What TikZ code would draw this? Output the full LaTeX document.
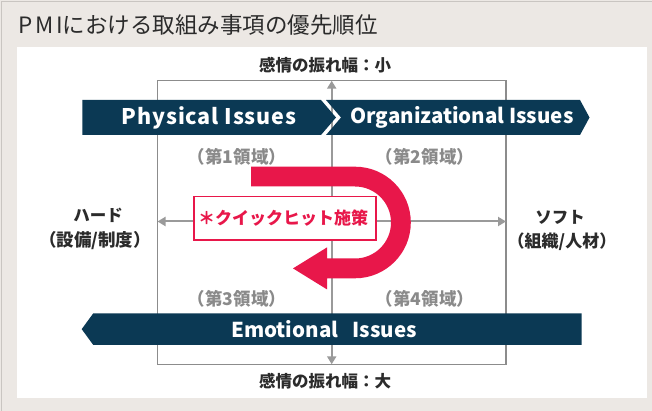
\documentclass[tikz,border=0pt]{standalone}
\usepackage{fontspec}
\setmainfont{Noto Sans CJK JP}
\usetikzlibrary{arrows.meta}
\definecolor{bgbeige}{HTML}{ECE8E4}
\definecolor{edgegray}{HTML}{C9C5C1}
\definecolor{navy}{HTML}{0B3954}
\definecolor{qred}{HTML}{E8174A}
\definecolor{axisgray}{HTML}{9A9A9A}
\definecolor{framegray}{HTML}{8C8C8C}
\definecolor{labgray}{HTML}{8A8A8A}
\definecolor{darktext}{HTML}{2B2B2B}
\tikzset{
  banner/.style={fill=navy,draw=none},
  bannertext/.style={text=white,font=\fontsize{20.5}{23}\selectfont\bfseries,inner sep=0pt},
  quadlabel/.style={text=labgray,font=\fontsize{17.5}{19}\selectfont\bfseries,inner sep=0pt},
  axislabel/.style={text=darktext,font=\fontsize{16.5}{18}\selectfont\bfseries,inner sep=0pt},
  axisline/.style={draw=axisgray,line width=2pt,{Triangle[width=9pt,length=8pt]}-{Triangle[width=9pt,length=8pt]}},
}
\begin{document}
\begin{tikzpicture}[x=1pt,y=1pt]
\useasboundingbox (0,0) rectangle (652,411);
% background
\fill[bgbeige] (0,0) rectangle (652,411);
\draw[edgegray,line width=1.5pt] (1.5,0) -- (1.5,409.5) -- (652,409.5);
\fill[white] (16.5,12.5) rectangle (646.5,364);
% title
\node[anchor=west,inner sep=0pt,text=darktext,font=\fontsize{22.5}{25}\selectfont] (title) at (18.3,386)
  {P\hspace{2.5pt}M\hspace{2.5pt}Iにおける取組み事項の優先順位};
% frame
\draw[framegray,line width=1.3pt] (157.5,46.7) rectangle (506,330.3);
% axes
\coordinate (vtop) at (331.7,330.3);
\coordinate (vbot) at (331.7,46.7);
\coordinate (hleft) at (157.5,189.5);
\coordinate (hright) at (506,189.5);
\draw[axisline] (vbot) -- (vtop);
\draw[axisline] (hleft) -- (hright);
% banners
\fill[banner] (82.4,311) -- (321,311) -- (336,293.5) -- (321,276) -- (82.4,276) -- cycle;
\fill[banner] (326,311) -- (580,311) -- (589.5,293.5) -- (580,276) -- (326,276) -- (341,293.5) -- cycle;
\fill[banner] (81.7,81.85) -- (93.3,97.7) -- (581.7,97.7) -- (581.7,66) -- (93.3,66) -- cycle;
\node[bannertext,font=\fontsize{21.5}{23}\selectfont\bfseries\addfontfeature{LetterSpace=4}] (phys) at (209,293.5) {Physical Issues};
\node[bannertext] (org) at (462,293.5) {Organizational Issues};
\node[bannertext] (emo) at (324,81.85) {Emotional\hspace{0.7em}Issues};
% quadrant labels
\node[quadlabel] (q1) at (237,254) {（第1領域）};
\node[quadlabel] (q2) at (425,254) {（第2領域）};
\node[quadlabel] (q3) at (237,112) {（第3領域）};
\node[quadlabel] (q4) at (425,112) {（第4領域）};
% axis labels
\node[axislabel] (small) at (325,346) {感情の振れ幅：小};
\node[axislabel] (large) at (325,30) {感情の振れ幅：大};
\node[axislabel] (hard1) at (98,196) {ハード};
\node[axislabel,font=\fontsize{17.5}{19}\selectfont\bfseries] (hard2) at (95,170) {（設備/制度）};
\node[axislabel] (soft1) at (560,194) {ソフト};
\node[axislabel,font=\fontsize{17}{19}\selectfont\bfseries] (soft2) at (562,169) {（組織/人材）};
% U arrow
\fill[qred] (251,244.3) -- (355,244.3) arc[start angle=90,end angle=-90,radius=55.8]
  -- (327,132.7) -- (327,121.6) -- (293,142.6) -- (327,163.6) -- (327,152.5) -- (355,152.5)
  arc[start angle=-90,end angle=90,radius=36] -- (251,224.5) -- cycle;
% quick hit box
\node[draw=qred,line width=1.8pt,fill=white,minimum width=182pt,minimum height=43.5pt,inner sep=0pt] (qbox) at (285,192.65) {};
\node[text=qred,font=\fontsize{17}{19}\selectfont\bfseries,inner sep=0pt] (qtext) at (283,193) {＊クイックヒット施策};
\end{tikzpicture}
\end{document}
